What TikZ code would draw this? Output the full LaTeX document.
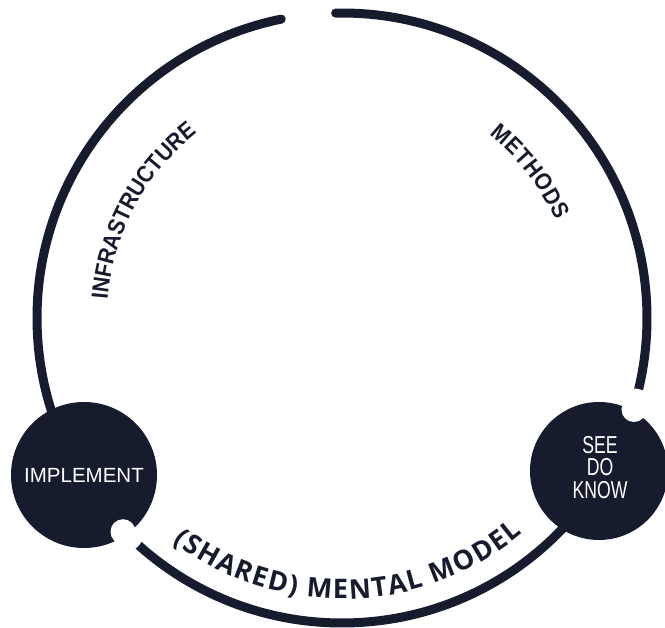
\documentclass[tikz,border=0pt]{standalone}
\usepackage{fontspec}
\setmainfont{Liberation Sans}
\newfontfamily\arcfont[FakeStretch=0.9]{Liberation Sans}
\newfontfamily\mmfont{Open Sans}
\newfontfamily\sdkfont[FakeStretch=0.72]{Liberation Sans}
\usetikzlibrary{decorations.text}
\definecolor{navy}{RGB}{22,27,46}
\begin{document}
\begin{tikzpicture}[x=1pt,y=1pt,
  ring/.style={draw=navy, line width=9pt, line cap=round},
  disc/.style={circle, fill=navy, inner sep=0pt, text=white},
  notch/.style={circle, fill=white, inner sep=0pt},
]
\fill[white] (0,0) rectangle (665,-628);
\useasboundingbox (0,0) rectangle (665,-628);
\coordinate (C) at (342,-318);
\draw[ring] ([shift={(91.2:305pt)}]C) arc[start angle=91.2, end angle=-258.5, radius=305pt];
\node[notch, minimum size=42pt] (gapR) at ([shift={(-17.4:306pt)}]C) {};
\node[notch, minimum size=42pt] (gapL) at ([shift={(224.3:306pt)}]C) {};
\node[disc, minimum size=146pt, font=\fontsize{20.5}{20.5}\selectfont] (impl) at (84,-475) {IMPLEMENT};
\node[disc, minimum size=138pt] (sdk) at (599,-471) {};
\node[text=white, align=center, font=\sdkfont\fontsize{24.5}{22.5}\selectfont] (sdktext) at (600,-467.5) {SEE\\DO\\KNOW};
\node[notch, minimum size=25pt] (notchR) at (gapR) {};
\node[notch, minimum size=25pt] (notchL) at (gapL) {};
\path[decorate, decoration={text along path, text align=fit to path,
  text={|\arcfont\bfseries\color{navy}\fontsize{23.5}{23.5}\selectfont|INFRASTRUCTURE}}]
  ([shift={(175.5:235pt)}]C) arc[start angle=175.5, end angle=128, radius=235pt];
\path[decorate, decoration={text along path, text align=fit to path,
  text={|\arcfont\bfseries\color{navy}\fontsize{23.5}{23.5}\selectfont|METHODS}}]
  ([shift={(51.2:235pt)}]C) arc[start angle=51.2, end angle=24.5, radius=235pt];
\path[decorate, decoration={text along path, text align=fit to path,
  text={|\mmfont\bfseries\color{navy}\fontsize{27}{27}\selectfont|(SHARED) MENTAL MODEL}}]
  ([shift={(233:281pt)}]C) arc[start angle=233, end angle=310, radius=281pt];
\end{tikzpicture}
\end{document}
